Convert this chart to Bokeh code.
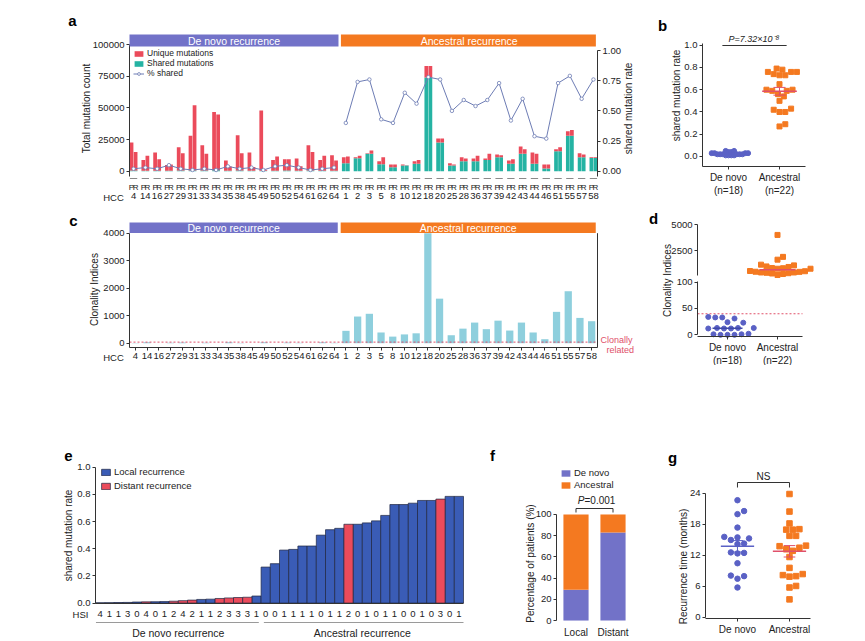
import math
import numpy as np
from bokeh.plotting import figure
from bokeh.models import (Range1d, LinearAxis, FixedTicker, Label, Legend, LegendItem,
                          BoxAnnotation, BasicTickFormatter, PrintfTickFormatter, Spacer)
from bokeh.layouts import row, column
from bokeh.embed import file_html
from bokeh.resources import INLINE

FONT = "Liberation Sans"
TXT = "#222222"
AX = "#333333"
RED = "#EB4B5B"
TEAL = "#25B3A3"
PURPLE = "#7272C8"
ORANGE = "#F47920"
LINE = "#6D7CB4"
CYAN = "#8ECFDD"
BLUE_E = "#3A5CB6"
PT_BLUE = "#5A61C5"
MEAN_RED = "#E0506A"
THR_RED = "#E0506A"

# ---------------- data ----------------
hcc_denovo = ["4", "14", "16", "27", "29", "31", "33", "34", "35", "38", "45", "49",
              "50", "52", "54", "61", "62", "64"]
hcc_ancestral = ["1", "2", "3", "5", "8", "10", "12", "18", "20", "25", "28", "36", "37",
                 "39", "42", "43", "44", "46", "51", "55", "57", "58"]
samples = ["P", "R"]
denovo_total_P = [22600, 8900, 14700, 4800, 18900, 27900, 20500, 46800, 8400, 28400, 14700,
                  47900, 8900, 9500, 10000, 20500, 8900, 12600]
denovo_total_R = [15200, 12100, 9500, 5200, 14200, 52000, 13700, 44700, 3700, 14200, 3300,
                  1200, 11600, 9500, 3800, 15200, 12100, 8400]
denovo_shared = [500, 400, 400, 300, 500, 600, 500, 700, 300, 600, 300, 400, 400, 500, 300,
                 500, 300, 400]
ancestral_total_P = [11000, 11000, 14200, 7900, 5300, 5300, 7900, 83000, 25800, 6300, 11000,
                     10000, 10000, 13200, 8400, 19500, 14700, 5300, 17400, 31600, 14200, 11000]
ancestral_total_R = [11600, 12100, 16300, 11000, 5300, 4700, 8900, 83000, 25800, 5300, 10000,
                     12100, 13700, 12600, 9500, 17400, 13700, 5300, 18900, 32600, 13200, 11000]
ancestral_shared = [6300, 10300, 13700, 5500, 3200, 4400, 5800, 74000, 22600, 4400, 7900, 7900,
                    8900, 11000, 5800, 13700, 5800, 2100, 15800, 27900, 11000, 10500]
denovo_shared_rate = [0.02, 0.03, 0.02, 0.05, 0.02, 0.01, 0.02, 0.01, 0.04, 0.02, 0.03, 0.01,
                      0.04, 0.05, 0.03, 0.01, 0.02, 0.03]
ancestral_shared_rate = [0.40, 0.74, 0.76, 0.43, 0.40, 0.65, 0.56, 0.78, 0.76, 0.50, 0.59, 0.54,
                         0.59, 0.73, 0.42, 0.60, 0.29, 0.27, 0.73, 0.79, 0.60, 0.76]
denovo_clonality = [12, 33, 1, 13, 24, 0, 13, 2, 31, 12, 0, 34, 1, 23, 13, 0, 33, 12]
ancestral_clonality = [450, 970, 1070, 390, 240, 320, 360, 4000, 1620, 290, 530, 750, 510, 820,
                       460, 750, 390, 145, 1140, 1890, 920, 800]
clonal_threshold = 40
p_value_b = "P=7.32×10⁻⁸"

# panel e (sorted by shared mutation rate)
e_rate_denovo = [0.002, 0.003, 0.004, 0.005, 0.008, 0.009, 0.010, 0.011, 0.014, 0.018, 0.022,
                 0.027, 0.029, 0.034, 0.038, 0.041, 0.043, 0.052]
e_hsi_denovo = [4, 1, 1, 3, 0, 4, 0, 1, 2, 4, 2, 1, 1, 2, 3, 3, 3, 1]
e_site_denovo = ["L", "L", "L", "L", "L", "D", "L", "L", "D", "D", "D", "L", "L", "D", "D", "D",
                 "D", "L"]
e_rate_ancestral = [0.265, 0.29, 0.39, 0.395, 0.42, 0.42, 0.50, 0.54, 0.55, 0.58, 0.58, 0.59,
                    0.605, 0.645, 0.725, 0.725, 0.735, 0.755, 0.755, 0.765, 0.785, 0.785]
e_hsi_ancestral = [0, 0, 1, 1, 1, 1, 0, 1, 1, 2, 0, 1, 0, 1, 1, 0, 0, 1, 0, 3, 0, 1]
e_site_ancestral = ["L"] * 9 + ["D"] + ["L"] * 9 + ["D"] + ["L"] * 2

# panel f
f_sites = ["Local", "Distant"]
f_denovo_pct = [29, 83]
f_ancestral_pct = [71, 17]
p_value_f = "=0.001"

# panel g (recurrence time, months)
g_time_denovo = [22.7, 20.6, 20.0, 17.4, 15.6, 15.5, 15.3, 15.0, 14.3, 14.2, 12.6, 12.5, 12.4,
                 10.5, 8.1, 8.0, 7.5, 5.8]
g_time_ancestral = [23.9, 20.5, 18.2, 17.0, 17.1, 17.0, 15.8, 15.8, 13.8, 13.9, 13.5, 13.2, 12.9,
                    11.7, 9.6, 8.0, 7.9, 8.2, 8.4, 6.1, 5.8, 3.5]


# ---------------- helpers ----------------
class Geo:
    """Maps page pixels of a panel's plot area to data values."""

    def __init__(s, fl, fr, ft, fb, x0, x1, y0, y1):
        s.fl, s.fr, s.ft, s.fb, s.x0, s.x1, s.y0, s.y1 = fl, fr, ft, fb, x0, x1, y0, y1

    def x(s, px):
        return s.x0 + (px - s.fl) / (s.fr - s.fl) * (s.x1 - s.x0)

    def y(s, py):
        return s.y0 + (s.fb - py) / (s.fb - s.ft) * (s.y1 - s.y0)

    def xs(s):
        return (s.fr - s.fl) / (s.x1 - s.x0)

    def ys(s):
        return (s.fb - s.ft) / (s.y1 - s.y0)


def style_axis(ax, fs="9.5px"):
    ax.major_label_text_font = FONT
    ax.major_label_text_font_size = fs
    ax.major_label_text_color = TXT
    ax.axis_line_color = AX
    ax.major_tick_line_color = AX
    ax.minor_tick_line_color = None
    ax.major_tick_in = 0
    ax.major_tick_out = 3
    ax.major_label_standoff = 2


def make_panel(ox, oy, W, H, vf, xr, yr):
    fl, fr, ft, fb = vf
    geo = Geo(fl, fr, ft, fb, xr[0], xr[1], yr[0], yr[1])
    p = figure(width=W, height=H, x_range=Range1d(geo.x(ox), geo.x(ox + W)),
               y_range=Range1d(geo.y(oy + H), geo.y(oy)), output_backend="svg",
               toolbar_location=None, min_border=0, min_border_left=0, min_border_right=0,
               min_border_top=0, min_border_bottom=0)
    p.grid.visible = False
    p.outline_line_color = None
    for ax in p.axis:
        style_axis(ax)
    p.xaxis[0].fixed_location = geo.y(fb)
    p.yaxis[0].fixed_location = geo.x(fl)
    p.xaxis[0].bounds = (xr[0], xr[1])
    p.yaxis[0].bounds = (yr[0], yr[1])
    return p, geo


def txt(p, x, y, text, size="9.5px", color=TXT, align="center", baseline="middle",
        style="normal", angle=0.0):
    p.add_layout(Label(x=x, y=y, text=text, text_font=FONT, text_font_size=size,
                       text_color=color, text_align=align, text_baseline=baseline,
                       text_font_style=style, angle=angle))


def letter(p, geo, px, py, t):
    txt(p, geo.x(px), geo.y(py), t, size="15px", color="black", style="bold")


def ylabel(p, geo, px, py, t):
    txt(p, geo.x(px), geo.y(py), t, size="10px", angle=math.pi / 2)


def make_legend(p, oy, H, ox, items, left_px, top_px, fs, gw, gh, lh, spacing):
    n = len(items)
    height = n * lh + (n - 1) * spacing
    leg = Legend(items=items, location=(left_px - ox, (oy + H) - (top_px + height)),
                 padding=0, margin=0, spacing=spacing, glyph_width=gw, glyph_height=gh,
                 label_height=lh, label_text_font=FONT, label_text_font_size=fs,
                 label_text_color=TXT, label_standoff=3, background_fill_alpha=0,
                 border_line_color=None)
    p.add_layout(leg, "center")


def swarm(vals_px, diam):
    vals_px = np.asarray(vals_px, float)
    order = np.argsort(vals_px, kind="stable")
    placed = []
    offs = np.zeros(len(vals_px))
    step = diam / 4.0
    for i in order:
        yv = vals_px[i]
        k = 0
        while True:
            found = None
            for cand in ([0.0] if k == 0 else [k * step, -k * step]):
                if all((cx - cand) ** 2 + (cy - yv) ** 2 >= diam ** 2 - 1e-9 for cx, cy in placed):
                    found = cand
                    break
            if found is not None:
                break
            k += 1
        placed.append((found, yv))
        offs[i] = found
    return offs


def mean_bar(p, c, vals, half, color, centre=None, sem=True):
    m = float(np.mean(vals)) if centre is None else centre
    p.segment(x0=[c - half], x1=[c + half], y0=[m], y1=[m], line_color=color, line_width=1.5)
    if sem:
        se = float(np.std(vals, ddof=1) / math.sqrt(len(vals)))
        h = half * 0.35
        p.segment(x0=[c, c - h, c - h], x1=[c, c + h, c + h], y0=[m - se, m - se, m + se],
                  y1=[m + se, m - se, m + se], line_color=color, line_width=1)


# ---------------- panel a ----------------
G = 0.9
hcc_all = hcc_denovo + hcc_ancestral
n_a = len(hcc_all)
xa_end = 2 * n_a + G * (n_a - 1)
pair_left = [k * (2 + G) for k in range(n_a)]
pair_c = [pl + 1 for pl in pair_left]
bar_x, bar_s, tot_a, sh_a = [], [], [], []
for k, (tp, tr, sh) in enumerate(zip(denovo_total_P + ancestral_total_P,
                                     denovo_total_R + ancestral_total_R,
                                     denovo_shared + ancestral_shared)):
    for j, (s, t) in enumerate(zip(samples, (tp, tr))):
        bar_x.append(pair_left[k] + j + 0.5)
        bar_s.append(s)
        tot_a.append(t)
        sh_a.append(sh)
ya0, ya1 = -4200, 107900
ra0, ra1 = -0.044, 1.133
pa, geo_a = make_panel(0, 0, 645, 208, (129, 597, 34, 176), (0, xa_end), (ya0, ya1))
geo_r = Geo(129, 597, 34, 176, 0, xa_end, ra0, ra1)
pa.extra_y_ranges = {"rate": Range1d(geo_r.y(208), geo_r.y(0))}
r_sh = pa.vbar(x=bar_x, top=sh_a, bottom=0, width=0.92, fill_color=TEAL, line_color=None)
r_un = pa.vbar(x=bar_x, top=tot_a, bottom=sh_a, width=0.92, fill_color=RED, line_color=None)
pa.segment(x0=[pl + 0.1 for pl in pair_left], x1=[pl + 1.9 for pl in pair_left],
           y0=[geo_a.y(178)] * n_a, y1=[geo_a.y(178)] * n_a, line_color="#8A8A8A", line_width=1)
pa.line(x=pair_c[:len(hcc_denovo)], y=denovo_shared_rate, y_range_name="rate",
        line_color=LINE, line_width=1)
r_l2 = pa.line(x=pair_c[len(hcc_denovo):], y=ancestral_shared_rate, y_range_name="rate",
               line_color=LINE, line_width=1)
r_m = pa.scatter(x=pair_c, y=denovo_shared_rate + ancestral_shared_rate, y_range_name="rate",
                 marker="circle", size=3.5, fill_color="white", line_color=LINE, line_width=0.8)
rax = LinearAxis(y_range_name="rate", ticker=FixedTicker(ticks=[0, 0.25, 0.5, 0.75, 1.0]),
                 formatter=PrintfTickFormatter(format="%.2f"), bounds=(ra0, 1.0),
                 fixed_location=geo_a.x(597))
style_axis(rax)
pa.add_layout(rax, "right")
yax = pa.yaxis[0]
yax.ticker = FixedTicker(ticks=[0, 25000, 50000, 75000, 100000])
yax.formatter = BasicTickFormatter(use_scientific=False)
yax.bounds = (ya0, 100000)
ax_pr = pa.xaxis[0]
ax_pr.ticker = FixedTicker(ticks=bar_x)
ax_pr.major_label_overrides = {x: s for x, s in zip(bar_x, bar_s)}
ax_pr.axis_line_color = None
ax_pr.major_tick_line_color = None
ax_pr.major_label_text_font_size = "8px"
ax_pr.major_label_standoff = 3
ax_hcc = LinearAxis(ticker=FixedTicker(ticks=pair_c), fixed_location=geo_a.y(176),
                    bounds=(0, xa_end))
style_axis(ax_hcc)
ax_hcc.major_label_overrides = {x: h for x, h in zip(pair_c, hcc_all)}
ax_hcc.axis_line_color = None
ax_hcc.major_tick_line_color = None
ax_hcc.major_label_standoff = 13
pa.add_layout(ax_hcc, "below")
b1_right = pair_left[len(hcc_denovo) - 1] + 2 + 0.1
b2_left = pair_left[len(hcc_denovo)] - 0.2
band_bot = geo_a.y(46)
pa.add_layout(BoxAnnotation(left=0, right=b1_right, top=geo_a.y(34), bottom=band_bot,
                            fill_color=PURPLE, fill_alpha=1, line_color=None))
pa.add_layout(BoxAnnotation(left=b2_left, right=xa_end - 0.4, top=geo_a.y(34), bottom=band_bot,
                            fill_color=ORANGE, fill_alpha=1, line_color=None))
txt(pa, b1_right / 2, geo_a.y(40.5), "De novo recurrence", size="10.5px", color="white")
txt(pa, (b2_left + xa_end) / 2, geo_a.y(40.5), "Ancestral recurrence", size="10.5px",
    color="white")
txt(pa, geo_a.x(113), geo_a.y(197), "HCC", size="9.5px")
ylabel(pa, geo_a, 86, 108, "Total mutation count")
ylabel(pa, geo_a, 628, 108, "shared mutation rate")
letter(pa, geo_a, 72, 20, "a")
make_legend(pa, 0, 208, 0, [LegendItem(label="Unique mutations", renderers=[r_un]),
                            LegendItem(label="Shared mutations", renderers=[r_sh]),
                            LegendItem(label="% shared", renderers=[r_l2, r_m])],
            133, 48, "8.5px", 11, 7, 10, 0)

# ---------------- panel b ----------------
xb0, xb1, yb0, yb1 = -0.01, 2.01, -0.09, 1.222
pb, geo_b = make_panel(645, 0, 220, 208, (702, 805, 20, 166), (xb0, xb1), (yb0, yb1))
off_b1 = swarm(np.array(denovo_shared_rate) * geo_b.ys(), 2.8) / geo_b.xs()
off_b2 = swarm(np.array(ancestral_shared_rate) * geo_b.ys(), 5.8) / geo_b.xs()
pb.scatter(x=0.5 + off_b1, y=denovo_shared_rate, marker="circle", size=5, color=PT_BLUE)
pb.scatter(x=1.5 + off_b2, y=ancestral_shared_rate, marker="square", size=5, color=ORANGE)
mean_bar(pb, 0.5, denovo_shared_rate, 0.36, PT_BLUE)
mean_bar(pb, 1.5, ancestral_shared_rate, 0.34, MEAN_RED)
pb.yaxis[0].ticker = FixedTicker(ticks=[0, 0.2, 0.4, 0.6, 0.8, 1.0])
pb.yaxis[0].formatter = PrintfTickFormatter(format="%.1f")
pb.yaxis[0].bounds = (yb0, 1.015)
pb.xaxis[0].ticker = FixedTicker(ticks=[0.5, 1.5])
pb.xaxis[0].major_label_overrides = {0.5: "De novo\n(n=18)", 1.5: "Ancestral\n(n=22)"}
pb.xaxis[0].major_label_text_font_size = "10px"
ybr = geo_b.y(45)
pb.segment(x0=[0.5 - 0.12], x1=[1.5 + 0.14], y0=[ybr], y1=[ybr], line_color=AX, line_width=1)
txt(pb, 1.0, geo_b.y(43.5), p_value_b, size="9px", style="italic", baseline="bottom")
ylabel(pb, geo_b, 676, 95, "shared mutation rate")
letter(pb, geo_b, 662, 25, "b")

# ---------------- panel c ----------------
yc0, yc1 = -156, 4389
pc, geo_c = make_panel(0, 208, 645, 157, (129, 597, 222, 347), (0, n_a), (yc0, yc1))
xc = [k + 0.5 for k in range(n_a)]
pc.vbar(x=xc, top=denovo_clonality + ancestral_clonality, width=0.62, fill_color=CYAN,
        line_color=None)
pc.segment(x0=[0], x1=[n_a], y0=[clonal_threshold], y1=[clonal_threshold], line_color=THR_RED,
           line_dash="2 2", line_width=1)
pc.segment(x0=[n_a], x1=[n_a], y0=[yc0], y1=[4000], line_color=AX, line_width=1)
pc.yaxis[0].ticker = FixedTicker(ticks=[0, 1000, 2000, 3000, 4000])
pc.yaxis[0].bounds = (yc0, 4000)
pc.xaxis[0].ticker = FixedTicker(ticks=xc)
pc.xaxis[0].major_label_overrides = {x: h for x, h in zip(xc, hcc_all)}
cband = geo_c.y(232.5)
pc.add_layout(BoxAnnotation(left=0, right=17.8, top=geo_c.y(222), bottom=cband,
                            fill_color=PURPLE, fill_alpha=1, line_color=None))
pc.add_layout(BoxAnnotation(left=18.05, right=39.85, top=geo_c.y(222), bottom=cband,
                            fill_color=ORANGE, fill_alpha=1, line_color=None))
txt(pc, 17.8 / 2, geo_c.y(227.5), "De novo recurrence", size="10.5px", color="white")
txt(pc, (18.05 + 39.85) / 2, geo_c.y(227.5), "Ancestral recurrence", size="10.5px",
    color="white")
txt(pc, geo_c.x(113), geo_c.y(357), "HCC", size="9.5px")
txt(pc, geo_c.x(600), geo_c.y(339), "Clonally", size="9px", color=THR_RED, align="left")
txt(pc, geo_c.x(606), geo_c.y(349), "related", size="9px", color=THR_RED, align="left")
ylabel(pc, geo_c, 94, 289, "Clonality Indices")
letter(pc, geo_c, 73, 220, "c")


# ---------------- panel d (broken axis) ----------------
def brk(v):
    return v if v <= 100 else 110.7 + 0.01975 * v


xd0, xd1, yd0, yd1 = -0.1, 2.0, -3.2, 220.9
pdd, geo_d = make_panel(645, 208, 220, 157, (697, 802, 218, 336), (xd0, xd1), (yd0, yd1))
sd1 = [brk(v) for v in denovo_clonality]
sd2 = [brk(v) for v in ancestral_clonality]
off_d1 = swarm(np.array(sd1) * geo_d.ys(), 7.0) / geo_d.xs()
off_d2 = swarm(np.array(sd2) * geo_d.ys(), 5.5) / geo_d.xs()
pdd.segment(x0=[xd0], x1=[xd1], y0=[brk(clonal_threshold)], y1=[brk(clonal_threshold)],
            line_color=THR_RED, line_dash="2 2", line_width=1)
pdd.scatter(x=0.5 + off_d1, y=sd1, marker="circle", size=5, color=PT_BLUE)
pdd.scatter(x=1.5 + off_d2, y=sd2, marker="square", size=5, color=ORANGE)
mean_bar(pdd, 0.5, sd1, 0.3, "#3F49A8", centre=float(np.median(sd1)), sem=False)
mean_bar(pdd, 1.5, sd2, 0.36, MEAN_RED, centre=brk(float(np.median(ancestral_clonality))),
         sem=False)
dt = [0, 50, 100, 2500, 5000]
pdd.yaxis[0].ticker = FixedTicker(ticks=[brk(t) for t in dt])
pdd.yaxis[0].major_label_overrides = {brk(t): str(t) for t in dt}
pdd.yaxis[0].bounds = (0, brk(5000))
pdd.yaxis[0].axis_line_dash = "53 6 200"
pdd.xaxis[0].ticker = FixedTicker(ticks=[0.5, 1.5])
pdd.xaxis[0].major_label_overrides = {0.5: "De novo\n(n=18)", 1.5: "Ancestral\n(n=22)"}
pdd.xaxis[0].major_label_text_font_size = "10px"
ylabel(pdd, geo_d, 667, 280, "Clonality Indices")
letter(pdd, geo_d, 653, 218, "d")

# ---------------- panel e ----------------
e_rate = e_rate_denovo + e_rate_ancestral
e_hsi = e_hsi_denovo + e_hsi_ancestral
e_site = e_site_denovo + e_site_ancestral
n_e = len(e_rate)
n_ed = len(e_rate_denovo)
xe0, xe1, ye0, ye1 = -0.5, n_e - 0.5, -0.003, 1.049
pe, geo_e = make_panel(0, 440, 480, 201, (95, 463, 460, 603), (xe0, xe1), (ye0, ye1))
il = [i for i, s in enumerate(e_site) if s == "L"]
idd = [i for i, s in enumerate(e_site) if s == "D"]
r_loc = pe.vbar(x=il, top=[e_rate[i] for i in il], width=1, fill_color=BLUE_E,
                line_color="#1E2540", line_width=0.7)
r_dis = pe.vbar(x=idd, top=[e_rate[i] for i in idd], width=1, fill_color=RED,
                line_color="#1E2540", line_width=0.7)
pe.yaxis[0].ticker = FixedTicker(ticks=[0, 0.2, 0.4, 0.6, 0.8, 1.0])
pe.yaxis[0].formatter = PrintfTickFormatter(format="%.1f")
pe.yaxis[0].bounds = (0, 1.0)
pe.xaxis[0].ticker = FixedTicker(ticks=list(range(n_e)))
pe.xaxis[0].major_label_overrides = {i: str(h) for i, h in enumerate(e_hsi)}
pe.xaxis[0].major_tick_line_color = None
pe.xaxis[0].major_label_standoff = 4
yg = geo_e.y(622)
pe.segment(x0=[xe0 + 0.05, n_ed - 0.5 + 0.3], x1=[n_ed - 0.5 - 0.25, xe1], y0=[yg, yg],
           y1=[yg, yg], line_color="#9A9A9A", line_width=1)
txt(pe, (n_ed - 1) / 2, geo_e.y(632), "De novo recurrence", size="10.5px")
txt(pe, n_ed + (len(e_rate_ancestral) - 1) / 2, geo_e.y(632), "Ancestral recurrence",
    size="10.5px")
txt(pe, geo_e.x(80), geo_e.y(614), "HSI", size="9.5px")
ylabel(pe, geo_e, 68, 535, "shared mutation rate")
letter(pe, geo_e, 68, 455, "e")
make_legend(pe, 440, 201, 0, [LegendItem(label="Local recurrence", renderers=[r_loc]),
                              LegendItem(label="Distant recurrence", renderers=[r_dis])],
            100, 466, "9.5px", 11, 8, 11, 3)

# ---------------- panel f ----------------
xf0, xf1, yf0, yf1 = -0.027, 2.027, -0.9, 149
pf, geo_f = make_panel(480, 440, 160, 201, (556, 632, 462, 621), (xf0, xf1), (yf0, yf1))
fx = [0.5, 1.5]
f_top = [a + b for a, b in zip(f_denovo_pct, f_ancestral_pct)]
r_fd = pf.vbar(x=fx, top=f_denovo_pct, bottom=0, width=0.68, fill_color=PURPLE, line_color=None)
r_fa = pf.vbar(x=fx, top=f_top, bottom=f_denovo_pct, width=0.68, fill_color=ORANGE,
               line_color=None)
pf.yaxis[0].ticker = FixedTicker(ticks=[0, 20, 40, 60, 80, 100])
pf.yaxis[0].bounds = (0, 100)
pf.xaxis[0].ticker = FixedTicker(ticks=fx)
pf.xaxis[0].major_label_overrides = {0.5: f_sites[0], 1.5: f_sites[1]}
pf.xaxis[0].axis_line_color = None
pf.xaxis[0].major_tick_line_color = None
pf.xaxis[0].major_label_text_font_size = "10px"
yfb = geo_f.y(508)
yft = geo_f.y(512)
pf.segment(x0=[0.5, 0.5, 1.5], x1=[1.5, 0.5, 1.5], y0=[yfb, yfb, yfb], y1=[yfb, yft, yft],
           line_color=AX, line_width=1)
txt(pf, geo_f.x(584), geo_f.y(500), "P", size="10px", style="italic", align="right")
txt(pf, geo_f.x(584), geo_f.y(500), p_value_f, size="10px", align="left")
ylabel(pf, geo_f, 530, 563, "Percentage of patients (%)")
letter(pf, geo_f, 492, 455, "f")
make_legend(pf, 440, 201, 480, [LegendItem(label="De novo", renderers=[r_fd]),
                                LegendItem(label="Ancestral", renderers=[r_fa])],
            560, 467, "9.5px", 11, 8, 11, 1)

# ---------------- panel g ----------------
xg0, xg1, yg0, yg1 = -0.115, 1.904, -0.2, 28.45
pg, geo_g = make_panel(640, 440, 225, 201, (705, 810, 470, 618), (xg0, xg1), (yg0, yg1))
off_g1 = swarm(np.array(g_time_denovo) * geo_g.ys(), 6.6) / geo_g.xs()
off_g2 = swarm(np.array(g_time_ancestral) * geo_g.ys(), 6.6) / geo_g.xs()
pg.scatter(x=0.5 + off_g1, y=g_time_denovo, marker="circle", size=5.5, color=PT_BLUE)
pg.scatter(x=1.5 + off_g2, y=g_time_ancestral, marker="square", size=5.5, color=ORANGE)
mean_bar(pg, 0.5, g_time_denovo, 0.32, PT_BLUE)
mean_bar(pg, 1.5, g_time_ancestral, 0.32, MEAN_RED)
pg.yaxis[0].ticker = FixedTicker(ticks=[0, 6, 12, 18, 24])
pg.yaxis[0].bounds = (0, 24)
pg.xaxis[0].ticker = FixedTicker(ticks=[0.5, 1.5])
pg.xaxis[0].major_label_overrides = {0.5: "De novo", 1.5: "Ancestral"}
pg.xaxis[0].major_label_text_font_size = "10px"
ygb = geo_g.y(482)
ygt = geo_g.y(487)
pg.segment(x0=[0.5, 0.5, 1.5], x1=[1.5, 0.5, 1.5], y0=[ygb, ygb, ygb], y1=[ygb, ygt, ygt],
           line_color=AX, line_width=1)
txt(pg, 1.0, geo_g.y(476), "NS", size="10px")
ylabel(pg, geo_g, 683, 566, "Recurrence time (months)")
letter(pg, geo_g, 672, 457, "g")

layout = column(row(pa, pb), row(pc, pdd), Spacer(width=865, height=75), row(pe, pf, pg))
open("out.html", "w").write(file_html(layout, INLINE))
